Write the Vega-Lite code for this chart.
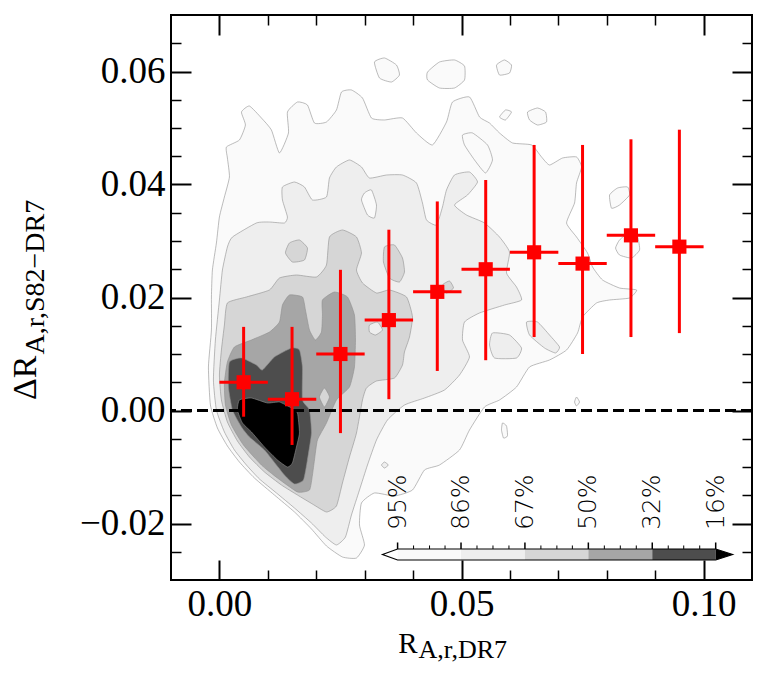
{
  "$schema": "https://vega.github.io/schema/vega-lite/v6.json",
  "width": 581,
  "height": 565,
  "autosize": {"type": "none"},
  "padding": {"left": 171, "top": 15, "right": 16, "bottom": 99},
  "config": {
    "view": {"stroke": "#000000", "strokeWidth": 2},
    "font": "Liberation Serif",
    "axis": {
      "grid": false,
      "domain": false,
      "labelFont": "Liberation Serif",
      "labelFontSize": 37,
      "labelColor": "#000000",
      "labelOverlap": false,
      "labelBound": false,
      "titleFont": "Liberation Serif",
      "titleColor": "#000000",
      "titleFontWeight": "normal",
      "tickColor": "#000000"
    }
  },
  "datasets": {
    "contours": [
      {"p":"z1a","lev":1,"x":0.00145,"y":0.04664},{"p":"z1a","lev":1,"x":0.00413,"y":0.04788},{"p":"z1a","lev":1,"x":0.00537,"y":0.05053},{"p":"z1a","lev":1,"x":0.00455,"y":0.05283},{"p":"z1a","lev":1,"x":0.0062,"y":0.05389},{"p":"z1a","lev":1,"x":0.00868,"y":0.05177},{"p":"z1a","lev":1,"x":0.01074,"y":0.04965},{"p":"z1a","lev":1,"x":0.0124,"y":0.04558},{"p":"z1a","lev":1,"x":0.01426,"y":0.04912},{"p":"z1a","lev":1,"x":0.01405,"y":0.05283},{"p":"z1a","lev":1,"x":0.01612,"y":0.0546},{"p":"z1a","lev":1,"x":0.01818,"y":0.05407},{"p":"z1a","lev":1,"x":0.01963,"y":0.05088},{"p":"z1a","lev":1,"x":0.02211,"y":0.05106},{"p":"z1a","lev":1,"x":0.02417,"y":0.05319},{"p":"z1a","lev":1,"x":0.02521,"y":0.05637},{"p":"z1a","lev":1,"x":0.02727,"y":0.05673},{"p":"z1a","lev":1,"x":0.02955,"y":0.05531},{"p":"z1a","lev":1,"x":0.0314,"y":0.05177},{"p":"z1a","lev":1,"x":0.03409,"y":0.05142},{"p":"z1a","lev":1,"x":0.03781,"y":0.05177},{"p":"z1a","lev":1,"x":0.0407,"y":0.04912},{"p":"z1a","lev":1,"x":0.04401,"y":0.047},{"p":"z1a","lev":1,"x":0.0469,"y":0.05106},{"p":"z1a","lev":1,"x":0.04814,"y":0.0546},{"p":"z1a","lev":1,"x":0.05165,"y":0.05549},{"p":"z1a","lev":1,"x":0.05372,"y":0.05195},{"p":"z1a","lev":1,"x":0.05579,"y":0.05088},{"p":"z1a","lev":1,"x":0.05785,"y":0.04912},{"p":"z1a","lev":1,"x":0.06054,"y":0.04735},{"p":"z1a","lev":1,"x":0.06446,"y":0.047},{"p":"z1a","lev":1,"x":0.06653,"y":0.04487},{"p":"z1a","lev":1,"x":0.06818,"y":0.04345},{"p":"z1a","lev":1,"x":0.07087,"y":0.04469},{"p":"z1a","lev":1,"x":0.07376,"y":0.04487},{"p":"z1a","lev":1,"x":0.0748,"y":0.0431},{"p":"z1a","lev":1,"x":0.07376,"y":0.04027},{"p":"z1a","lev":1,"x":0.07335,"y":0.03673},{"p":"z1a","lev":1,"x":0.0717,"y":0.03319},{"p":"z1a","lev":1,"x":0.07376,"y":0.03071},{"p":"z1a","lev":1,"x":0.07603,"y":0.02788},{"p":"z1a","lev":1,"x":0.07707,"y":0.0254},{"p":"z1a","lev":1,"x":0.07913,"y":0.0231},{"p":"z1a","lev":1,"x":0.08264,"y":0.02168},{"p":"z1a","lev":1,"x":0.08616,"y":0.02133},{"p":"z1a","lev":1,"x":0.08471,"y":0.01991},{"p":"z1a","lev":1,"x":0.08058,"y":0.01956},{"p":"z1a","lev":1,"x":0.07789,"y":0.01903},{"p":"z1a","lev":1,"x":0.075,"y":0.01655},{"p":"z1a","lev":1,"x":0.07397,"y":0.01372},{"p":"z1a","lev":1,"x":0.0717,"y":0.01071},{"p":"z1a","lev":1,"x":0.06818,"y":0.00894},{"p":"z1a","lev":1,"x":0.06405,"y":0.0077},{"p":"z1a","lev":1,"x":0.06136,"y":0.00416},{"p":"z1a","lev":1,"x":0.05785,"y":0.00186},{"p":"z1a","lev":1,"x":0.05475,"y":0.00062},{"p":"z1a","lev":1,"x":0.05165,"y":-0.00345},{"p":"z1a","lev":1,"x":0.04959,"y":-0.00699},{"p":"z1a","lev":1,"x":0.04545,"y":-0.00965},{"p":"z1a","lev":1,"x":0.04236,"y":-0.01053},{"p":"z1a","lev":1,"x":0.03988,"y":-0.01407},{"p":"z1a","lev":1,"x":0.03616,"y":-0.01513},{"p":"z1a","lev":1,"x":0.03202,"y":-0.0146},{"p":"z1a","lev":1,"x":0.02934,"y":-0.01637},{"p":"z1a","lev":1,"x":0.02893,"y":-0.02027},{"p":"z1a","lev":1,"x":0.02996,"y":-0.02381},{"p":"z1a","lev":1,"x":0.02831,"y":-0.02611},{"p":"z1a","lev":1,"x":0.02541,"y":-0.02593},{"p":"z1a","lev":1,"x":0.02211,"y":-0.02398},{"p":"z1a","lev":1,"x":0.01901,"y":-0.02097},{"p":"z1a","lev":1,"x":0.0155,"y":-0.01796},{"p":"z1a","lev":1,"x":0.01136,"y":-0.01496},{"p":"z1a","lev":1,"x":0.00723,"y":-0.01195},{"p":"z1a","lev":1,"x":0.00413,"y":-0.00912},{"p":"z1a","lev":1,"x":0.00165,"y":-0.00628},{"p":"z1a","lev":1,"x":-0.00041,"y":-0.0031},{"p":"z1a","lev":1,"x":-0.00186,"y":0.00097},{"p":"z1a","lev":1,"x":-0.00227,"y":0.0077},{"p":"z1a","lev":1,"x":-0.00165,"y":0.01425},{"p":"z1a","lev":1,"x":-0.00165,"y":0.02009},{"p":"z1a","lev":1,"x":-0.00145,"y":0.02487},{"p":"z1a","lev":1,"x":-0.00062,"y":0.02965},{"p":"z1a","lev":1,"x":0.0,"y":0.03425},{"p":"z1a","lev":1,"x":0.00103,"y":0.03779},{"p":"z1a","lev":1,"x":0.00207,"y":0.04133},{"p":"z1a","lev":1,"x":0.00165,"y":0.04469},
      {"p":"z1b","lev":1,"x":0.03202,"y":0.06168},{"p":"z1b","lev":1,"x":0.03409,"y":0.06239},{"p":"z1b","lev":1,"x":0.03657,"y":0.06115},{"p":"z1b","lev":1,"x":0.03719,"y":0.05938},{"p":"z1b","lev":1,"x":0.03554,"y":0.05814},{"p":"z1b","lev":1,"x":0.03306,"y":0.05885},
      {"p":"z1c","lev":1,"x":0.04298,"y":0.05991},{"p":"z1c","lev":1,"x":0.04545,"y":0.06168},{"p":"z1c","lev":1,"x":0.04855,"y":0.06204},{"p":"z1c","lev":1,"x":0.05062,"y":0.06097},{"p":"z1c","lev":1,"x":0.05062,"y":0.0585},{"p":"z1c","lev":1,"x":0.04855,"y":0.05708},{"p":"z1c","lev":1,"x":0.04545,"y":0.05708},{"p":"z1c","lev":1,"x":0.04298,"y":0.0585},
      {"p":"z1d","lev":1,"x":0.05723,"y":0.06115},{"p":"z1d","lev":1,"x":0.05888,"y":0.06204},{"p":"z1d","lev":1,"x":0.06033,"y":0.06115},{"p":"z1d","lev":1,"x":0.05992,"y":0.05973},{"p":"z1d","lev":1,"x":0.05785,"y":0.05938},
      {"p":"z1e","lev":1,"x":0.06364,"y":0.05283},{"p":"z1e","lev":1,"x":0.0657,"y":0.05354},{"p":"z1e","lev":1,"x":0.06736,"y":0.05283},{"p":"z1e","lev":1,"x":0.06756,"y":0.05106},{"p":"z1e","lev":1,"x":0.0657,"y":0.05053},{"p":"z1e","lev":1,"x":0.06405,"y":0.05142},
      {"p":"z1f","lev":1,"x":0.05021,"y":0.04876},{"p":"z1f","lev":1,"x":0.05227,"y":0.04912},{"p":"z1f","lev":1,"x":0.05537,"y":0.047},{"p":"z1f","lev":1,"x":0.0564,"y":0.04434},{"p":"z1f","lev":1,"x":0.05496,"y":0.04204},{"p":"z1f","lev":1,"x":0.05269,"y":0.04434},{"p":"z1f","lev":1,"x":0.05062,"y":0.047},
      {"p":"z1g","lev":1,"x":0.08058,"y":0.03814},{"p":"z1g","lev":1,"x":0.08223,"y":0.03938},{"p":"z1g","lev":1,"x":0.0843,"y":0.03956},{"p":"z1g","lev":1,"x":0.08471,"y":0.03814},{"p":"z1g","lev":1,"x":0.08264,"y":0.03637},{"p":"z1g","lev":1,"x":0.08099,"y":0.0358},
      {"p":"z1h","lev":1,"x":0.08264,"y":0.03018},{"p":"z1h","lev":1,"x":0.08471,"y":0.03159},{"p":"z1h","lev":1,"x":0.08636,"y":0.03071},{"p":"z1h","lev":1,"x":0.08678,"y":0.02841},{"p":"z1h","lev":1,"x":0.08512,"y":0.02699},{"p":"z1h","lev":1,"x":0.08264,"y":0.02752},{"p":"z1h","lev":1,"x":0.08182,"y":0.02876},
      {"p":"z1i","lev":1,"x":0.05785,"y":0.05195},{"p":"z1i","lev":1,"x":0.05909,"y":0.05319},{"p":"z1i","lev":1,"x":0.06033,"y":0.05283},{"p":"z1i","lev":1,"x":0.05909,"y":0.05142},
      {"p":"z1j","lev":1,"x":0.05847,"y":-0.00221},{"p":"z1j","lev":1,"x":0.0593,"y":-0.00274},{"p":"z1j","lev":1,"x":0.0595,"y":-0.00451},{"p":"z1j","lev":1,"x":0.05868,"y":-0.00487},{"p":"z1j","lev":1,"x":0.05826,"y":-0.00345},
      {"p":"z1k","lev":1,"x":0.07376,"y":0.00239},{"p":"z1k","lev":1,"x":0.07438,"y":0.0015},{"p":"z1k","lev":1,"x":0.07376,"y":0.0008},{"p":"z1k","lev":1,"x":0.07335,"y":0.0015},
      {"p":"z2a","lev":2,"x":0.00165,"y":0.02894},{"p":"z2a","lev":2,"x":0.00269,"y":0.03071},{"p":"z2a","lev":2,"x":0.00764,"y":0.03319},{"p":"z2a","lev":2,"x":0.01033,"y":0.03336},{"p":"z2a","lev":2,"x":0.01343,"y":0.03319},{"p":"z2a","lev":2,"x":0.01405,"y":0.03425},{"p":"z2a","lev":2,"x":0.01302,"y":0.03726},{"p":"z2a","lev":2,"x":0.01302,"y":0.03956},{"p":"z2a","lev":2,"x":0.0155,"y":0.04044},{"p":"z2a","lev":2,"x":0.01756,"y":0.03956},{"p":"z2a","lev":2,"x":0.01921,"y":0.03726},{"p":"z2a","lev":2,"x":0.02211,"y":0.03779},{"p":"z2a","lev":2,"x":0.02273,"y":0.04115},{"p":"z2a","lev":2,"x":0.02417,"y":0.0431},{"p":"z2a","lev":2,"x":0.02686,"y":0.04434},{"p":"z2a","lev":2,"x":0.02934,"y":0.0431},{"p":"z2a","lev":2,"x":0.03099,"y":0.04115},{"p":"z2a","lev":2,"x":0.0345,"y":0.04168},{"p":"z2a","lev":2,"x":0.03781,"y":0.04168},{"p":"z2a","lev":2,"x":0.0407,"y":0.04027},{"p":"z2a","lev":2,"x":0.04194,"y":0.03673},{"p":"z2a","lev":2,"x":0.04277,"y":0.03372},{"p":"z2a","lev":2,"x":0.04483,"y":0.03283},{"p":"z2a","lev":2,"x":0.04607,"y":0.03602},{"p":"z2a","lev":2,"x":0.0469,"y":0.03903},{"p":"z2a","lev":2,"x":0.04855,"y":0.04168},{"p":"z2a","lev":2,"x":0.05165,"y":0.04221},{"p":"z2a","lev":2,"x":0.05331,"y":0.04044},{"p":"z2a","lev":2,"x":0.05124,"y":0.03814},{"p":"z2a","lev":2,"x":0.04855,"y":0.03637},{"p":"z2a","lev":2,"x":0.05103,"y":0.0346},{"p":"z2a","lev":2,"x":0.05475,"y":0.03319},{"p":"z2a","lev":2,"x":0.05785,"y":0.03071},{"p":"z2a","lev":2,"x":0.05992,"y":0.02805},{"p":"z2a","lev":2,"x":0.0593,"y":0.02434},{"p":"z2a","lev":2,"x":0.06136,"y":0.02186},{"p":"z2a","lev":2,"x":0.0624,"y":0.01956},{"p":"z2a","lev":2,"x":0.05888,"y":0.01867},{"p":"z2a","lev":2,"x":0.05372,"y":0.01726},{"p":"z2a","lev":2,"x":0.05062,"y":0.01566},{"p":"z2a","lev":2,"x":0.05021,"y":0.01248},{"p":"z2a","lev":2,"x":0.05165,"y":0.00947},{"p":"z2a","lev":2,"x":0.04959,"y":0.00628},{"p":"z2a","lev":2,"x":0.04649,"y":0.00363},{"p":"z2a","lev":2,"x":0.04236,"y":0.00221},{"p":"z2a","lev":2,"x":0.03822,"y":0.00097},{"p":"z2a","lev":2,"x":0.03471,"y":-0.00168},{"p":"z2a","lev":2,"x":0.03244,"y":-0.00522},{"p":"z2a","lev":2,"x":0.03058,"y":-0.00965},{"p":"z2a","lev":2,"x":0.02893,"y":-0.01407},{"p":"z2a","lev":2,"x":0.02727,"y":-0.0185},{"p":"z2a","lev":2,"x":0.02603,"y":-0.02239},{"p":"z2a","lev":2,"x":0.02417,"y":-0.0238},{"p":"z2a","lev":2,"x":0.0219,"y":-0.02239},{"p":"z2a","lev":2,"x":0.01901,"y":-0.01991},{"p":"z2a","lev":2,"x":0.0155,"y":-0.01726},{"p":"z2a","lev":2,"x":0.01178,"y":-0.0146},{"p":"z2a","lev":2,"x":0.00826,"y":-0.01212},{"p":"z2a","lev":2,"x":0.00558,"y":-0.00965},{"p":"z2a","lev":2,"x":0.0031,"y":-0.00699},{"p":"z2a","lev":2,"x":0.00103,"y":-0.0038},{"p":"z2a","lev":2,"x":-0.00062,"y":0.00009},{"p":"z2a","lev":2,"x":-0.00124,"y":0.0054},{"p":"z2a","lev":2,"x":-0.00083,"y":0.01248},{"p":"z2a","lev":2,"x":0.0,"y":0.01956},{"p":"z2a","lev":2,"x":0.00062,"y":0.02487},
      {"p":"z2b","lev":2,"x":0.0564,"y":0.01372},{"p":"z2b","lev":2,"x":0.05992,"y":0.01336},{"p":"z2b","lev":2,"x":0.0624,"y":0.01106},{"p":"z2b","lev":2,"x":0.06136,"y":0.00929},{"p":"z2b","lev":2,"x":0.05682,"y":0.00929},{"p":"z2b","lev":2,"x":0.05579,"y":0.01159},
      {"p":"z2c","lev":2,"x":0.06343,"y":0.01566},{"p":"z2c","lev":2,"x":0.0657,"y":0.01566},{"p":"z2c","lev":2,"x":0.06818,"y":0.01336},{"p":"z2c","lev":2,"x":0.07025,"y":0.01124},{"p":"z2c","lev":2,"x":0.06942,"y":0.01018},{"p":"z2c","lev":2,"x":0.06715,"y":0.01106},{"p":"z2c","lev":2,"x":0.06405,"y":0.01336},
      {"p":"z2d","lev":2,"x":0.03409,"y":-0.00912},{"p":"z2d","lev":2,"x":0.0349,"y":-0.00965},{"p":"z2d","lev":2,"x":0.03409,"y":-0.01018},{"p":"z2d","lev":2,"x":0.03347,"y":-0.00965},
      {"p":"z3a","lev":1,"x":0.02996,"y":0.0385},{"p":"z3a","lev":1,"x":0.0314,"y":0.03903},{"p":"z3a","lev":1,"x":0.03244,"y":0.03637},{"p":"z3a","lev":1,"x":0.03202,"y":0.03407},{"p":"z3a","lev":1,"x":0.03058,"y":0.0346},{"p":"z3a","lev":1,"x":0.02934,"y":0.03726},
      {"p":"z4a","lev":3,"x":0.00165,"y":0.01903},{"p":"z4a","lev":3,"x":0.00558,"y":0.02009},{"p":"z4a","lev":3,"x":0.01033,"y":0.02133},{"p":"z4a","lev":3,"x":0.0124,"y":0.02345},{"p":"z4a","lev":3,"x":0.01591,"y":0.02398},{"p":"z4a","lev":3,"x":0.02004,"y":0.02363},{"p":"z4a","lev":3,"x":0.02211,"y":0.02575},{"p":"z4a","lev":3,"x":0.02273,"y":0.03071},{"p":"z4a","lev":3,"x":0.02541,"y":0.03195},{"p":"z4a","lev":3,"x":0.02831,"y":0.03071},{"p":"z4a","lev":3,"x":0.02934,"y":0.02788},{"p":"z4a","lev":3,"x":0.02831,"y":0.02487},{"p":"z4a","lev":3,"x":0.02955,"y":0.02257},{"p":"z4a","lev":3,"x":0.03244,"y":0.0208},{"p":"z4a","lev":3,"x":0.03512,"y":0.02133},{"p":"z4a","lev":3,"x":0.03864,"y":0.02009},{"p":"z4a","lev":3,"x":0.03988,"y":0.01655},{"p":"z4a","lev":3,"x":0.03926,"y":0.01301},{"p":"z4a","lev":3,"x":0.03822,"y":0.01035},{"p":"z4a","lev":3,"x":0.03781,"y":0.00805},{"p":"z4a","lev":3,"x":0.03616,"y":0.00575},{"p":"z4a","lev":3,"x":0.03244,"y":0.00522},{"p":"z4a","lev":3,"x":0.03037,"y":0.00398},{"p":"z4a","lev":3,"x":0.02955,"y":0.00186},{"p":"z4a","lev":3,"x":0.02831,"y":-0.00398},{"p":"z4a","lev":3,"x":0.02686,"y":-0.00823},{"p":"z4a","lev":3,"x":0.02541,"y":-0.01283},{"p":"z4a","lev":3,"x":0.02417,"y":-0.0169},{"p":"z4a","lev":3,"x":0.02211,"y":-0.01796},{"p":"z4a","lev":3,"x":0.01921,"y":-0.01655},{"p":"z4a","lev":3,"x":0.01612,"y":-0.01496},{"p":"z4a","lev":3,"x":0.01281,"y":-0.01319},{"p":"z4a","lev":3,"x":0.0093,"y":-0.01088},{"p":"z4a","lev":3,"x":0.0062,"y":-0.00823},{"p":"z4a","lev":3,"x":0.00372,"y":-0.0054},{"p":"z4a","lev":3,"x":0.00165,"y":-0.00204},{"p":"z4a","lev":3,"x":0.00041,"y":0.00186},{"p":"z4a","lev":3,"x":0.0,"y":0.00628},{"p":"z4a","lev":3,"x":0.00041,"y":0.01071},{"p":"z4a","lev":3,"x":0.00103,"y":0.01513},
      {"p":"z4b","lev":3,"x":0.03409,"y":0.02894},{"p":"z4b","lev":3,"x":0.03616,"y":0.02929},{"p":"z4b","lev":3,"x":0.03781,"y":0.02699},{"p":"z4b","lev":3,"x":0.03822,"y":0.02451},{"p":"z4b","lev":3,"x":0.03719,"y":0.02274},{"p":"z4b","lev":3,"x":0.03512,"y":0.02345},{"p":"z4b","lev":3,"x":0.03388,"y":0.02628},
      {"p":"z4c","lev":3,"x":0.01446,"y":0.02965},{"p":"z4c","lev":3,"x":0.01653,"y":0.03018},{"p":"z4c","lev":3,"x":0.01818,"y":0.02876},{"p":"z4c","lev":3,"x":0.01756,"y":0.02664},{"p":"z4c","lev":3,"x":0.01508,"y":0.02628},{"p":"z4c","lev":3,"x":0.01364,"y":0.02788},
      {"p":"z4d","lev":3,"x":0.04607,"y":0.02221},{"p":"z4d","lev":3,"x":0.04752,"y":0.02292},{"p":"z4d","lev":3,"x":0.04835,"y":0.02168},{"p":"z4d","lev":3,"x":0.0469,"y":0.0208},
      {"p":"z5a","lev":2,"x":0.03099,"y":0.01513},{"p":"z5a","lev":2,"x":0.03264,"y":0.01566},{"p":"z5a","lev":2,"x":0.03368,"y":0.01425},{"p":"z5a","lev":2,"x":0.03223,"y":0.01336},{"p":"z5a","lev":2,"x":0.03099,"y":0.01389},
      {"p":"z6a","lev":4,"x":0.00103,"y":0.00487},{"p":"z6a","lev":4,"x":0.00165,"y":0.00858},{"p":"z6a","lev":4,"x":0.0031,"y":0.01124},{"p":"z6a","lev":4,"x":0.00661,"y":0.01248},{"p":"z6a","lev":4,"x":0.01033,"y":0.01389},{"p":"z6a","lev":4,"x":0.0124,"y":0.01566},{"p":"z6a","lev":4,"x":0.01302,"y":0.01867},{"p":"z6a","lev":4,"x":0.01446,"y":0.02044},{"p":"z6a","lev":4,"x":0.01715,"y":0.02009},{"p":"z6a","lev":4,"x":0.01777,"y":0.01779},{"p":"z6a","lev":4,"x":0.0186,"y":0.01425},{"p":"z6a","lev":4,"x":0.01983,"y":0.01248},{"p":"z6a","lev":4,"x":0.02107,"y":0.01389},{"p":"z6a","lev":4,"x":0.02128,"y":0.0169},{"p":"z6a","lev":4,"x":0.02128,"y":0.01956},{"p":"z6a","lev":4,"x":0.02376,"y":0.02097},{"p":"z6a","lev":4,"x":0.02645,"y":0.02009},{"p":"z6a","lev":4,"x":0.02789,"y":0.0169},{"p":"z6a","lev":4,"x":0.0281,"y":0.01248},{"p":"z6a","lev":4,"x":0.02789,"y":0.0077},{"p":"z6a","lev":4,"x":0.02686,"y":0.00416},{"p":"z6a","lev":4,"x":0.02417,"y":0.00186},{"p":"z6a","lev":4,"x":0.02211,"y":-0.00221},{"p":"z6a","lev":4,"x":0.02025,"y":-0.00522},{"p":"z6a","lev":4,"x":0.01963,"y":-0.00876},{"p":"z6a","lev":4,"x":0.01921,"y":-0.01142},{"p":"z6a","lev":4,"x":0.0186,"y":-0.01407},{"p":"z6a","lev":4,"x":0.01612,"y":-0.01442},{"p":"z6a","lev":4,"x":0.01198,"y":-0.01195},{"p":"z6a","lev":4,"x":0.00868,"y":-0.00965},{"p":"z6a","lev":4,"x":0.00496,"y":-0.00611},{"p":"z6a","lev":4,"x":0.00248,"y":-0.00257},{"p":"z6a","lev":4,"x":0.00124,"y":0.00097},
      {"p":"z7a","lev":3,"x":0.02169,"y":0.00398},{"p":"z7a","lev":3,"x":0.02273,"y":0.00239},{"p":"z7a","lev":3,"x":0.02169,"y":0.00062},{"p":"z7a","lev":3,"x":0.02066,"y":0.00239},
      {"p":"z8a","lev":5,"x":0.00207,"y":0.00858},{"p":"z8a","lev":5,"x":0.00455,"y":0.00929},{"p":"z8a","lev":5,"x":0.00764,"y":0.00805},{"p":"z8a","lev":5,"x":0.00888,"y":0.00717},{"p":"z8a","lev":5,"x":0.01136,"y":0.00947},{"p":"z8a","lev":5,"x":0.01488,"y":0.01106},{"p":"z8a","lev":5,"x":0.01653,"y":0.01071},{"p":"z8a","lev":5,"x":0.01715,"y":0.0077},{"p":"z8a","lev":5,"x":0.01715,"y":0.00186},{"p":"z8a","lev":5,"x":0.0186,"y":0.00009},{"p":"z8a","lev":5,"x":0.01901,"y":-0.00398},{"p":"z8a","lev":5,"x":0.01818,"y":-0.00876},{"p":"z8a","lev":5,"x":0.01736,"y":-0.0123},{"p":"z8a","lev":5,"x":0.0155,"y":-0.01301},{"p":"z8a","lev":5,"x":0.01343,"y":-0.01142},{"p":"z8a","lev":5,"x":0.0093,"y":-0.00699},{"p":"z8a","lev":5,"x":0.0062,"y":-0.00469},{"p":"z8a","lev":5,"x":0.00455,"y":-0.00292},{"p":"z8a","lev":5,"x":0.00269,"y":0.00009},{"p":"z8a","lev":5,"x":0.00186,"y":0.00416},
      {"p":"z9a","lev":6,"x":0.00413,"y":0.00186},{"p":"z9a","lev":6,"x":0.00661,"y":0.00221},{"p":"z9a","lev":6,"x":0.00992,"y":0.00133},{"p":"z9a","lev":6,"x":0.0124,"y":0.0015},{"p":"z9a","lev":6,"x":0.01488,"y":0.00044},{"p":"z9a","lev":6,"x":0.01612,"y":-0.00044},{"p":"z9a","lev":6,"x":0.01653,"y":-0.00398},{"p":"z9a","lev":6,"x":0.01591,"y":-0.00646},{"p":"z9a","lev":6,"x":0.01508,"y":-0.00929},{"p":"z9a","lev":6,"x":0.01405,"y":-0.01},{"p":"z9a","lev":6,"x":0.01198,"y":-0.00876},{"p":"z9a","lev":6,"x":0.0093,"y":-0.00646},{"p":"z9a","lev":6,"x":0.00661,"y":-0.0038},{"p":"z9a","lev":6,"x":0.00475,"y":-0.00221},{"p":"z9a","lev":6,"x":0.00372,"y":0.00009}
    ],
    "bins": [
      {"x":0.005,"xlo":0.0,"xhi":0.01,"y":0.005,"lo":-0.0011,"hi":0.0148},
      {"x":0.015,"xlo":0.01,"xhi":0.02,"y":0.002,"lo":-0.0061,"hi":0.0148},
      {"x":0.025,"xlo":0.02,"xhi":0.03,"y":0.010,"lo":-0.0040,"hi":0.0249},
      {"x":0.035,"xlo":0.03,"xhi":0.04,"y":0.016,"lo":0.0020,"hi":0.0320},
      {"x":0.045,"xlo":0.04,"xhi":0.05,"y":0.021,"lo":0.0070,"hi":0.0370},
      {"x":0.055,"xlo":0.05,"xhi":0.06,"y":0.025,"lo":0.0089,"hi":0.0408},
      {"x":0.065,"xlo":0.06,"xhi":0.07,"y":0.028,"lo":0.0130,"hi":0.0470},
      {"x":0.075,"xlo":0.07,"xhi":0.08,"y":0.026,"lo":0.0100,"hi":0.0470},
      {"x":0.085,"xlo":0.08,"xhi":0.09,"y":0.031,"lo":0.0130,"hi":0.0480},
      {"x":0.095,"xlo":0.09,"xhi":0.10,"y":0.029,"lo":0.0137,"hi":0.0497}
    ],
    "refs": [{"v": 0}],
    "cbseg": [
      {"lev":1,"a":0.0368,"b":0.0499},{"lev":2,"a":0.0499,"b":0.0631},{"lev":3,"a":0.0631,"b":0.0762},{"lev":4,"a":0.0762,"b":0.0894},{"lev":5,"a":0.0894,"b":0.1025}
    ],
    "cbarrows": [
      {"p":"L","lev":0,"x":0.03368,"y":-0.02549},{"p":"L","lev":0,"x":0.0368,"y":-0.02451},{"p":"L","lev":0,"x":0.0368,"y":-0.02646},
      {"p":"R","lev":6,"x":0.10599,"y":-0.02549},{"p":"R","lev":6,"x":0.1025,"y":-0.02451},{"p":"R","lev":6,"x":0.1025,"y":-0.02646}
    ],
    "cbframe": [
      {"x":0.03368,"y":-0.02549},{"x":0.0368,"y":-0.02451},{"x":0.1025,"y":-0.02451},{"x":0.10599,"y":-0.02549},{"x":0.1025,"y":-0.02646},{"x":0.0368,"y":-0.02646}
    ],
    "cbticks": [
      {"x":0.0368,"t":"95%"},{"x":0.0499,"t":"86%"},{"x":0.0631,"t":"67%"},{"x":0.0762,"t":"50%"},{"x":0.0894,"t":"32%"},{"x":0.1025,"t":"16%"}
    ],
    "cbminor": [
      {"x":0.0401},{"x":0.0434},{"x":0.0466},{"x":0.0532},{"x":0.0565},{"x":0.0598},{"x":0.0664},{"x":0.0697},{"x":0.0729},{"x":0.0795},{"x":0.0828},{"x":0.0861},{"x":0.0927},{"x":0.0959},{"x":0.0992}
    ]
  },
  "resolve": {"axis": {"x": "independent", "y": "independent"}},
  "layer": [
    {
      "data": {"name": "contours"},
      "mark": {"type": "line", "filled": true, "interpolate": "cardinal-closed", "tension": 0.5, "stroke": "#8e8e8e", "strokeWidth": 0.6, "clip": true},
      "encoding": {
        "x": {"field": "x", "type": "quantitative",
              "scale": {"domain": [-0.01, 0.11], "nice": false, "zero": false},
              "axis": {"orient": "bottom", "values": [0, 0.05, 0.1], "format": ".2f", "ticks": false, "labelPadding": 6,
                       "title": "R", "titleFontSize": 29, "titleAngle": 0, "titleAlign": "right", "titleBaseline": "alphabetic", "titleX": 246, "titleY": 72}},
        "y": {"field": "y", "type": "quantitative",
              "scale": {"domain": [-0.03, 0.07], "nice": false, "zero": false},
              "axis": {"orient": "left", "values": [-0.02, 0, 0.02, 0.04, 0.06], "format": ".2f", "ticks": false, "labelPadding": 6,
                       "title": "ΔR", "titleFontSize": 34, "titleAngle": 270, "titleAlign": "right", "titleBaseline": "alphabetic", "titleX": -136, "titleY": 340}},
        "detail": {"field": "p"},
        "color": {"field": "lev", "type": "ordinal",
                  "scale": {"domain": [0, 1, 2, 3, 4, 5, 6], "range": ["#ffffff", "#fafafa", "#eeeeee", "#d6d6d6", "#a6a6a6", "#4d4d4d", "#000000"]},
                  "legend": null},
        "order": {"value": null}
      }
    },
    {
      "data": {"name": "refs"},
      "mark": {"type": "rule", "color": "#000000", "strokeWidth": 3, "strokeDash": [11, 5]},
      "encoding": {
        "y": {"field": "v", "type": "quantitative",
              "axis": {"orient": "left", "labels": false, "ticks": false, "title": "A,r,S82−DR7", "titleFontSize": 28, "titleAngle": 270, "titleAlign": "left", "titleBaseline": "alphabetic", "titleX": -128, "titleY": 339}}
      }
    },
    {
      "data": {"name": "cbseg"},
      "mark": {"type": "rect"},
      "encoding": {
        "x": {"field": "a", "type": "quantitative", "axis": null},
        "x2": {"field": "b"},
        "y": {"datum": -0.02451, "type": "quantitative", "axis": null},
        "y2": {"datum": -0.02646},
        "color": {"field": "lev", "type": "ordinal", "legend": null}
      }
    },
    {
      "data": {"name": "cbarrows"},
      "mark": {"type": "line", "filled": true, "interpolate": "linear-closed", "strokeWidth": 0},
      "encoding": {
        "x": {"field": "x", "type": "quantitative", "axis": null},
        "y": {"field": "y", "type": "quantitative", "axis": null},
        "detail": {"field": "p"},
        "color": {"field": "lev", "type": "ordinal", "legend": null},
        "order": {"value": null}
      }
    },
    {
      "data": {"name": "cbframe"},
      "mark": {"type": "line", "interpolate": "linear-closed", "color": "#000000", "strokeWidth": 1.2},
      "encoding": {
        "x": {"field": "x", "type": "quantitative", "axis": null},
        "y": {"field": "y", "type": "quantitative", "axis": null},
        "order": {"value": null}
      }
    },
    {
      "data": {"name": "cbticks"},
      "mark": {"type": "rule", "color": "#000000", "strokeWidth": 1.5},
      "encoding": {
        "x": {"field": "x", "type": "quantitative", "axis": null},
        "y": {"datum": -0.02451, "type": "quantitative", "axis": null},
        "y2": {"datum": -0.02336}
      }
    },
    {
      "data": {"name": "cbminor"},
      "mark": {"type": "rule", "color": "#000000", "strokeWidth": 1},
      "encoding": {
        "x": {"field": "x", "type": "quantitative", "axis": null},
        "y": {"datum": -0.02451, "type": "quantitative", "axis": null},
        "y2": {"datum": -0.02389}
      }
    },
    {
      "data": {"name": "cbticks"},
      "mark": {"type": "text", "angle": 270, "align": "left", "baseline": "middle", "font": "DejaVu Sans", "fontSize": 25, "fontWeight": 200, "color": "#000000"},
      "encoding": {
        "x": {"field": "x", "type": "quantitative", "axis": null},
        "y": {"datum": -0.02115, "type": "quantitative", "axis": null},
        "text": {"field": "t"}
      }
    },
    {
      "data": {"name": "bins"},
      "mark": {"type": "rule", "color": "#ff0000", "strokeWidth": 3},
      "encoding": {
        "x": {"field": "x", "type": "quantitative",
              "axis": {"orient": "bottom", "values": [0, 0.01, 0.02, 0.03, 0.04, 0.05, 0.06, 0.07, 0.08, 0.09, 0.1], "labels": false, "title": null,
                       "tickSize": {"condition": {"test": "abs(datum.value * 20 - round(datum.value * 20)) < 0.001", "value": -20}, "value": -10},
                       "tickWidth": {"condition": {"test": "abs(datum.value * 20 - round(datum.value * 20)) < 0.001", "value": 2}, "value": 1.5}}},
        "y": {"field": "lo", "type": "quantitative",
              "axis": {"orient": "left", "values": [-0.025, -0.02, -0.015, -0.01, -0.005, 0, 0.005, 0.01, 0.015, 0.02, 0.025, 0.03, 0.035, 0.04, 0.045, 0.05, 0.055, 0.06, 0.065], "labels": false, "title": null,
                       "tickSize": {"condition": {"test": "abs(datum.value * 50 - round(datum.value * 50)) < 0.001", "value": -20}, "value": -10},
                       "tickWidth": {"condition": {"test": "abs(datum.value * 50 - round(datum.value * 50)) < 0.001", "value": 2}, "value": 1.5}}},
        "y2": {"field": "hi"}
      }
    },
    {
      "data": {"name": "bins"},
      "mark": {"type": "rule", "color": "#ff0000", "strokeWidth": 3},
      "encoding": {
        "x": {"field": "xlo", "type": "quantitative",
              "axis": {"orient": "top", "values": [0, 0.01, 0.02, 0.03, 0.04, 0.05, 0.06, 0.07, 0.08, 0.09, 0.1], "labels": false, "title": null,
                       "tickSize": {"condition": {"test": "abs(datum.value * 20 - round(datum.value * 20)) < 0.001", "value": -20}, "value": -10},
                       "tickWidth": {"condition": {"test": "abs(datum.value * 20 - round(datum.value * 20)) < 0.001", "value": 2}, "value": 1.5}}},
        "x2": {"field": "xhi"},
        "y": {"field": "y", "type": "quantitative",
              "axis": {"orient": "right", "values": [-0.025, -0.02, -0.015, -0.01, -0.005, 0, 0.005, 0.01, 0.015, 0.02, 0.025, 0.03, 0.035, 0.04, 0.045, 0.05, 0.055, 0.06, 0.065], "labels": false, "title": null,
                       "tickSize": {"condition": {"test": "abs(datum.value * 50 - round(datum.value * 50)) < 0.001", "value": -20}, "value": -10},
                       "tickWidth": {"condition": {"test": "abs(datum.value * 50 - round(datum.value * 50)) < 0.001", "value": 2}, "value": 1.5}}}
      }
    },
    {
      "data": {"name": "bins"},
      "mark": {"type": "square", "size": 200, "color": "#ff0000", "opacity": 1},
      "encoding": {
        "x": {"field": "x", "type": "quantitative",
              "axis": {"orient": "bottom", "labels": false, "ticks": false, "values": [], "title": "A,r,DR7", "titleFontSize": 26, "titleAngle": 0, "titleAlign": "left", "titleBaseline": "alphabetic", "titleX": 247, "titleY": 77}},
        "y": {"field": "y", "type": "quantitative", "axis": null}
      }
    }
  ]
}
